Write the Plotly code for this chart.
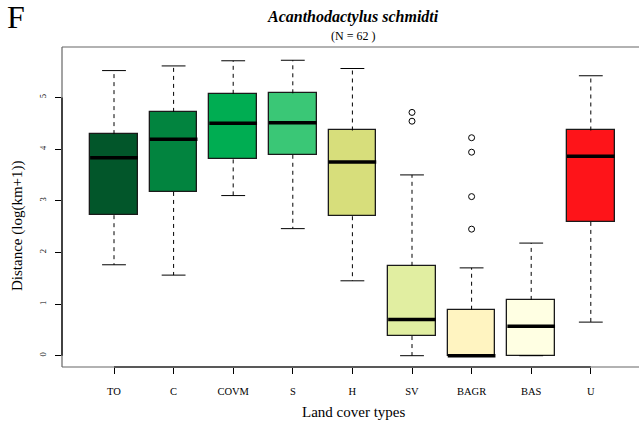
import plotly.graph_objects as go

# ---- data ----
categories = ["TO", "C", "COVM", "S", "H", "SV", "BAGR", "BAS", "U"]
lower_whisker = [1.76, 1.56, 3.10, 2.46, 1.45, 0.00, 0.00, 0.00, 0.65]
q1 = [2.72, 3.17, 3.80, 3.89, 2.70, 0.38, 0.00, 0.00, 2.59]
median = [3.83, 4.19, 4.50, 4.51, 3.75, 0.70, 0.00, 0.57, 3.86]
q3 = [4.29, 4.72, 5.07, 5.08, 4.36, 1.74, 0.89, 1.08, 4.36]
upper_whisker = [5.52, 5.61, 5.71, 5.72, 5.56, 3.50, 1.70, 2.18, 5.42]
outlier_cat = ["SV", "SV", "BAGR", "BAGR", "BAGR", "BAGR"]
outlier_val = [4.71, 4.54, 4.22, 3.94, 3.08, 2.45]
box_colors = ["#02562A", "#02843F", "#00AD52", "#3AC776", "#D7DE7B",
              "#E1EEA1", "#FFF4C1", "#FFFFE3", "#FE1419"]
y_ticks = [0, 1, 2, 3, 4, 5]

title_text = "Acanthodactylus schmidti"
subtitle_text = "(N = 62 )"
panel_letter = "F"
x_title = "Land cover types"
y_title = "Distance (log(km+1))"

FONT = "Liberation Serif"
BOX_W = 0.8
CAP_W = 0.4

# plot-area geometry in pixels
W, H = 639, 421
ML, MT, MB, MR = 62, 47, 54, 0
PW, PH = W - ML - MR, H - MT - MB


def px_x(x):
    return (x - ML) / PW


def px_y(y):
    return (H - MB - y) / PH


pos = list(range(1, len(categories) + 1))
cat_pos = {c: p for c, p in zip(categories, pos)}

fig = go.Figure()

# whiskers (dashed)
wx, wy = [], []
for p, lo, a, b, hi in zip(pos, lower_whisker, q1, q3, upper_whisker):
    wx += [p, p, None, p, p, None]
    wy += [b, hi, None, a, lo, None]
fig.add_trace(go.Scatter(x=wx, y=wy, mode="lines", hoverinfo="skip",
                         line=dict(color="black", width=1, dash="4px,4px"),
                         showlegend=False))
# caps
cx, cy = [], []
for p, lo, hi in zip(pos, lower_whisker, upper_whisker):
    cx += [p - CAP_W / 2, p + CAP_W / 2, None, p - CAP_W / 2, p + CAP_W / 2, None]
    cy += [hi, hi, None, lo, lo, None]
fig.add_trace(go.Scatter(x=cx, y=cy, mode="lines", hoverinfo="skip",
                         line=dict(color="black", width=1), showlegend=False))

# boxes
fig.add_trace(go.Bar(x=pos, base=q1, y=[b - a for a, b in zip(q1, q3)],
                     width=BOX_W,
                     marker=dict(color=box_colors,
                                 line=dict(color="#1a1a1a", width=1.3)),
                     showlegend=False))

# medians
mx, my = [], []
for p, m in zip(pos, median):
    mx += [p - BOX_W / 2, p + BOX_W / 2, None]
    my += [m, m, None]
fig.add_trace(go.Scatter(x=mx, y=my, mode="lines", hoverinfo="skip",
                         line=dict(color="black", width=3.5), showlegend=False))

# outliers
fig.add_trace(go.Scatter(x=[cat_pos[c] for c in outlier_cat], y=outlier_val,
                         mode="markers",
                         marker=dict(symbol="circle-open", size=6,
                                     color="black", line=dict(width=1)),
                         showlegend=False))

# frame (gray) and axis lines (black)
frame = dict(color="#666666", width=1.2)
shapes = [
    dict(type="line", xref="paper", yref="paper", x0=0, x1=1.02, y0=1, y1=1, line=frame),
    dict(type="line", xref="paper", yref="paper", x0=0, x1=0, y0=0, y1=1, line=frame),
    dict(type="line", xref="paper", yref="paper", x0=0, x1=1.02, y0=0, y1=0, line=frame),
    dict(type="line", xref="x", yref="paper", x0=pos[0], x1=pos[-1], y0=0, y1=0,
         line=dict(color="black", width=1.2)),
    dict(type="line", xref="paper", yref="y", x0=0, x1=0, y0=y_ticks[0], y1=y_ticks[-1],
         line=dict(color="black", width=1.2)),
]

annotations = [
    dict(text=panel_letter, xref="paper", yref="paper", x=px_x(16), y=px_y(17),
         xanchor="center", yanchor="middle", showarrow=False,
         font=dict(family=FONT, size=32, color="black")),
    dict(text="<b><i>" + title_text + "</i></b>", xref="paper", yref="paper",
         x=px_x(353), y=px_y(17.5), xanchor="center", yanchor="middle",
         showarrow=False, font=dict(family=FONT, size=16, color="black")),
    dict(text=subtitle_text, xref="paper", yref="paper",
         x=px_x(353), y=px_y(36), xanchor="center", yanchor="middle",
         showarrow=False, font=dict(family=FONT, size=12, color="black")),
    dict(text=x_title, xref="paper", yref="paper",
         x=px_x(353), y=px_y(411.5), xanchor="center", yanchor="middle",
         showarrow=False, font=dict(family=FONT, size=15, color="black")),
    dict(text=y_title, xref="paper", yref="paper", textangle=-90,
         x=px_x(17), y=px_y(226), xanchor="center", yanchor="middle",
         showarrow=False, font=dict(family=FONT, size=15, color="black")),
]

fig.update_layout(
    width=W, height=H,
    margin=dict(l=ML, r=MR, t=MT, b=MB),
    paper_bgcolor="white", plot_bgcolor="white",
    bargap=0,
    shapes=shapes, annotations=annotations,
    xaxis=dict(range=[1 - 52 / 59.6, 1 + PW / 59.6 - 52 / 59.6],
               tickmode="array", tickvals=pos, ticktext=categories,
               ticks="outside", ticklen=6, tickwidth=1, tickcolor="black",
               showgrid=False, zeroline=False, showline=False,
               ticklabelstandoff=8,
               tickfont=dict(family=FONT, size=10.5, color="black")),
    yaxis=dict(range=[-0.219, -0.219 + PH / 51.65],
               tickmode="array", tickvals=y_ticks, ticktext=[str(v) for v in y_ticks],
               ticks="outside", ticklen=6, tickwidth=1, tickcolor="black",
               tickangle=-90,
               showgrid=False, zeroline=False, showline=False,
               ticklabelstandoff=6,
               tickfont=dict(family=FONT, size=8.5, color="black")),
)

fig.write_html("out.html",
               config={"displayModeBar": False},
               post_script="document.body.style.margin='0';document.body.style.overflow='hidden';")
